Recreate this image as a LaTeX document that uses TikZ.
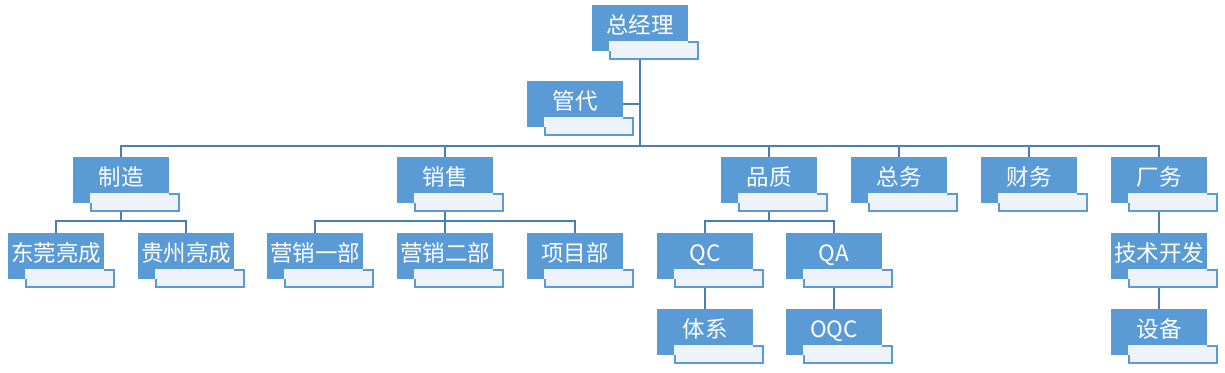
\documentclass[tikz,border=0pt]{standalone}
\usepackage{fontspec}
\setmainfont{Noto Sans CJK SC}
\definecolor{nodeblue}{HTML}{5B9BD5}
\definecolor{lightfill}{HTML}{EEF3FA}
\definecolor{boxline}{HTML}{5B9BD5}
\definecolor{connline}{HTML}{4A7EBB}
\pgfdeclarelayer{canvas}
\pgfdeclarelayer{bg}
\pgfsetlayers{canvas,bg,main}
\tikzset{
  orgbox/.style={fill=nodeblue, draw=none, minimum width=96pt, minimum height=46pt,
    anchor=north west, inner sep=0pt, outer sep=0pt, text=white,
    font=\fontsize{22.5}{26}\selectfont, text height=13pt, text depth=3pt},
  subbox/.style={fill=lightfill, draw=boxline, line width=1.3pt, minimum width=88pt,
    minimum height=17pt, inner sep=0pt, outer sep=0pt, anchor=north west},
  conn/.style={draw=connline, line width=1.2pt}
}
\newcommand\orgnode[4]{%
  \node[subbox] (#1-sub) at (#2+18,#3+37) {};
  \node[orgbox] (#1) at (#2,#3) {#4};
  \fill[lightfill] (#2+17.3,#3+36.3) rectangle (#2+96,#3+46);
}
\begin{document}
\begin{tikzpicture}[x=1pt,y=-1pt]
\useasboundingbox (0,0) rectangle (1225,372);
\begin{pgfonlayer}{canvas}
\fill[white] (0,0) rectangle (1225,372);
\end{pgfonlayer}
\orgnode{zjl}{592}{5}{总经理}
\orgnode{gd}{527}{81}{管代}
\orgnode{zz}{73}{157}{制造}
\orgnode{xs}{397}{157}{销售}
\orgnode{pz}{721}{157}{品质}
\orgnode{zw}{851}{157}{总务}
\orgnode{cw}{981}{157}{财务}
\orgnode{cwu}{1111}{157}{厂务}
\orgnode{dg}{8}{233}{东莞亮成}
\orgnode{gz}{138}{233}{贵州亮成}
\orgnode{yx1}{267}{233}{营销一部}
\orgnode{yx2}{397}{233}{营销二部}
\orgnode{xmb}{527}{233}{项目部}
\orgnode{qc}{657}{233}{QC}
\orgnode{qa}{786}{233}{QA}
\orgnode{jskf}{1111}{233}{技术开发}
\orgnode{tx}{657}{309}{体系}
\orgnode{oqc}{786}{309}{OQC}
\orgnode{sb}{1111}{309}{设备}
\coordinate (bus1) at (0,146);
\coordinate (bus2) at (0,221);
\begin{pgfonlayer}{bg}
\draw[conn] (zjl.south) |- (gd.east);
\foreach \c in {zz,xs,pz,zw,cw,cwu}
  \draw[conn] (zjl.south) -- (zjl.south |- bus1) -| (\c.north);
\foreach \c in {dg,gz}
  \draw[conn] (zz.south) -- (zz.south |- bus2) -| (\c.north);
\foreach \c in {yx1,yx2,xmb}
  \draw[conn] (xs.south) -- (xs.south |- bus2) -| (\c.north);
\foreach \c in {qc,qa}
  \draw[conn] (pz.south) -- (pz.south |- bus2) -| (\c.north);
\draw[conn] (cwu.south) -- (jskf.north);
\draw[conn] (jskf.south) -- (sb.north);
\draw[conn] (qc.south) -- (tx.north);
\draw[conn] (qa.south) -- (oqc.north);
\end{pgfonlayer}
\end{tikzpicture}
\end{document}
